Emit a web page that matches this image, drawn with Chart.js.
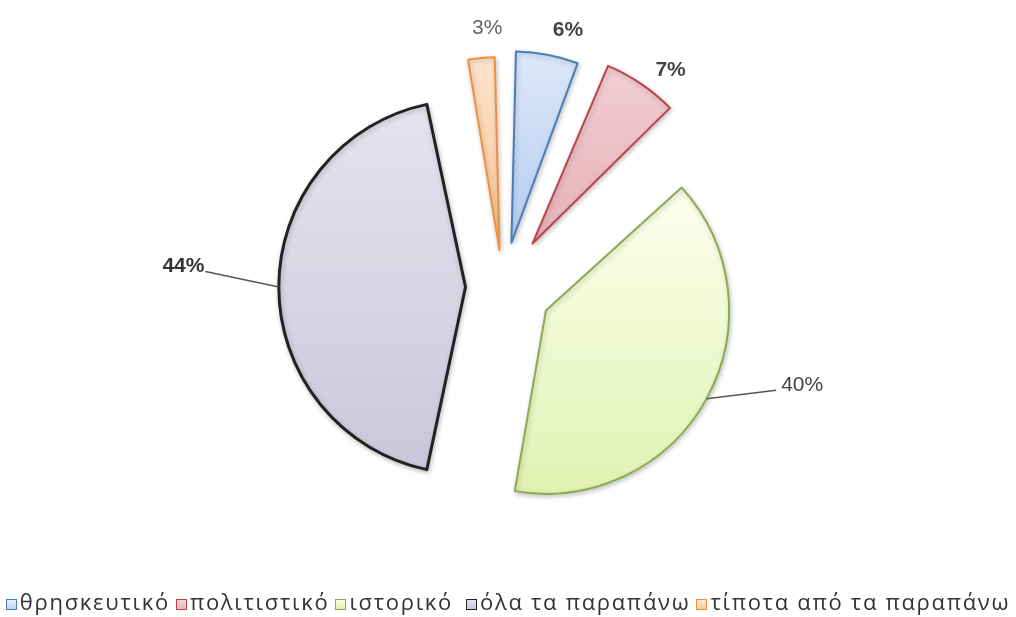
<!DOCTYPE html>
<html>
<head>
<meta charset="utf-8">
<script src="https://cdn.jsdelivr.net/npm/chart.js@4.4.1/dist/chart.umd.min.js"></script>
<style>
  html, body { margin: 0; padding: 0; background: #fff; }
  #wrap { position: relative; width: 1016px; height: 617px; overflow: hidden; }
  #legend {
    position: absolute; left: 0; top: 586px; width: 1016px;
    display: flex; justify-content: center; align-items: flex-start;
    font-family: "Open Sans", "Noto Sans", sans-serif; font-size: 22px; letter-spacing: 1.7px;
    color: #333; white-space: nowrap;
  }
  .item { display: flex; align-items: flex-start; margin: 0 3px; }
  .box { width: 9px; height: 9px; border: 1px solid; margin: 13px 3px 0 0; }
</style>
</head>
<body>
<div id="wrap">
  <canvas id="myChart1" width="1016" height="617"></canvas>
  <div id="legend"></div>
</div>
<script>
const categories = ['θρησκευτικό', 'πολιτιστικό', 'ιστορικό', 'όλα τα παραπάνω', 'τίποτα από τα παραπάνω'];
const shares = [6, 7, 40, 44, 3];

// slice styling
const fillTop = ['#e6effb', '#f5d6db', '#fbfde9', '#e4e4ee', '#fee9d6'];
const fillBottom = ['#bdd3f1', '#e9b6bf', '#def1ae', '#c8c8da', '#f9cb9e'];
const strokes = ['#4a7ebb', '#b8454a', '#8aab50', '#222222', '#ee9040'];
const strokeWidths = [2, 2, 2, 3, 2];
const explode = [180, 210, 196, 150, 148];
const RADIUS = 163;

// where the percentage labels sit: angle tweak (deg) and distance from pie centre
const labelTurn = [3.4, 3.5, -8.1, 3, 1.9];
const labelDist = [265, 274, 292, 298, 259];
const leader = [false, false, true, true, false];
const labelBold = [true, true, false, true, false];
const labelColor = ['#444', '#444', '#444', '#333', '#666'];

const total = shares.reduce((a, b) => a + b, 0);

function sliceGeom(area, i) {
  const cx = (area.left + area.right) / 2;
  const cy = (area.top + area.bottom) / 2;
  const before = shares.slice(0, i).reduce((a, b) => a + b, 0);
  const start = -Math.PI / 2 + 2 * Math.PI * before / total;
  const sweep = 2 * Math.PI * shares[i] / total;
  const mid = start + sweep / 2;
  const t = explode[i] / 4; // the arc element shifts itself by a quarter of its offset
  const fix = 1 - Math.sin(Math.min(Math.PI, sweep));
  return { x: cx + Math.cos(mid) * t, y: cy + Math.sin(mid) * t, r: RADIUS + t * fix, start, sweep };
}

function sliceFill(context) {
  const i = context.dataIndex;
  const chart = context.chart;
  const area = chart.chartArea;
  if (!area || i === undefined) return fillBottom[i || 0];
  const g = sliceGeom(area, i);
  let minY = g.y, maxY = g.y;
  for (let k = 0; k <= 24; k++) {
    const a = g.start + g.sweep * k / 24;
    const y = g.y + Math.sin(a) * g.r;
    minY = Math.min(minY, y);
    maxY = Math.max(maxY, y);
  }
  const grad = chart.ctx.createLinearGradient(0, minY, 0, maxY);
  grad.addColorStop(0, fillTop[i]);
  grad.addColorStop(1, fillBottom[i]);
  return grad;
}

const pctLabels = {
  id: 'pctLabels',
  afterDatasetsDraw(chart) {
    const { ctx } = chart;
    const meta = chart.getDatasetMeta(0);
    meta.data.forEach((arc, i) => {
      const p = arc.getProps(['x', 'y', 'startAngle', 'endAngle', 'outerRadius', 'circumference']);
      const mid = (p.startAngle + p.endAngle) / 2;
      const t = arc.options.offset / 4;
      const fix = 1 - Math.sin(Math.min(Math.PI, p.circumference));
      const r = p.outerRadius + t * fix;
      const a = mid + labelTurn[i] * Math.PI / 180;
      const ax = p.x + Math.cos(a) * labelDist[i];
      const ay = p.y + Math.sin(a) * labelDist[i];
      ctx.save();
      ctx.font = (labelBold[i] ? 'bold ' : '') + '21px "Liberation Sans", Arial, sans-serif';
      ctx.fillStyle = labelColor[i];
      ctx.textBaseline = 'middle';
      const text = shares[i] + '%';
      if (leader[i]) {
        const ex = p.x + Math.cos(mid) * t + Math.cos(mid) * r;
        const ey = p.y + Math.sin(mid) * t + Math.sin(mid) * r;
        ctx.strokeStyle = '#555';
        ctx.lineWidth = 1.5;
        ctx.beginPath();
        ctx.moveTo(ex, ey);
        ctx.lineTo(ax, ay);
        ctx.stroke();
        const right = Math.cos(a) > 0;
        ctx.textAlign = right ? 'left' : 'right';
        ctx.fillText(text, ax + (right ? 5 : -1), ay - 5);
      } else {
        ctx.textAlign = 'center';
        ctx.fillText(text, ax, ay);
      }
      ctx.restore();
    });
  }
};

const softShadow = {
  id: 'softShadow',
  beforeDatasetsDraw(chart) {
    const c = chart.ctx;
    c.save();
    c.shadowColor = 'rgba(0,0,0,0.22)';
    c.shadowBlur = 5;
    c.shadowOffsetX = 1;
    c.shadowOffsetY = 2;
  },
  afterDatasetsDraw(chart) {
    chart.ctx.restore();
  }
};

const ctx = document.getElementById('myChart1').getContext('2d');
const myChart = new Chart(ctx, {
  type: 'pie',
  data: {
    labels: categories,
    datasets: [{
      data: shares,
      backgroundColor: sliceFill,
      borderColor: strokes,
      borderWidth: strokeWidths,
      borderJoinStyle: 'round',
      offset: explode,
      hoverOffset: 0,
      radius: RADIUS
    }]
  },
  options: {
    responsive: false,
    animation: false,
    events: [],
    layout: { padding: { left: 0, right: 10, top: 0, bottom: 43 } },
    plugins: { legend: { display: false }, tooltip: { enabled: false } }
  },
  plugins: [softShadow, pctLabels]
});

// legend row under the pie
const legendEl = document.getElementById('legend');
categories.forEach((name, i) => {
  const item = document.createElement('span');
  item.className = 'item';
  if (i === 3) item.style.marginLeft = '10px';
  const box = document.createElement('span');
  box.className = 'box';
  box.style.borderColor = strokes[i];
  box.style.background = 'linear-gradient(' + fillTop[i] + ', ' + fillBottom[i] + ')';
  item.appendChild(box);
  item.appendChild(document.createTextNode(name));
  legendEl.appendChild(item);
});
</script>
</body>
</html>
